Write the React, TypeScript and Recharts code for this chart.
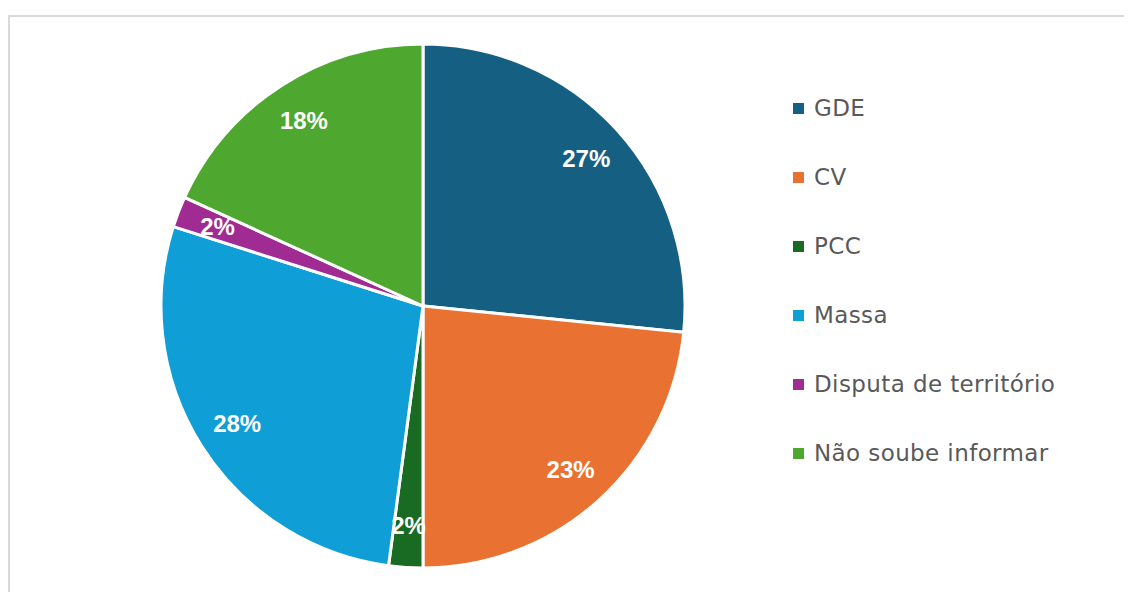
import React from 'react';
import { PieChart, Pie, Cell, Legend } from 'recharts';

const categories = ['GDE', 'CV', 'PCC', 'Massa', 'Disputa de território', 'Não soube informar'];
const shares = [26.6, 23.4, 2.1, 27.8, 1.9, 18.2];
const colors = ['#156082', '#E97132', '#196B24', '#0F9ED5', '#A02B93', '#4EA72E'];

const data = categories.map((name, i) => ({ name, value: shares[i] }));

const RAD = Math.PI / 180;

const renderLabel = (props: any) => {
  const { cx, cy, midAngle, outerRadius, percent } = props;
  const r = outerRadius * 0.84;
  const x = cx + r * Math.cos(-midAngle * RAD);
  const y = cy + r * Math.sin(-midAngle * RAD);
  return (
    <text
      x={x}
      y={y}
      fill="#fff"
      textAnchor="middle"
      dominantBaseline="central"
      fontSize={24}
      fontWeight="bold"
      fontFamily="'Liberation Sans', Arial, sans-serif"
    >
      {`${Math.round(percent * 100)}%`}
    </text>
  );
};

const renderLegend = () => (
  <ul style={{ listStyle: 'none', margin: 0, padding: 0 }}>
    {categories.map((c, i) => (
      <li key={c} style={{ display: 'flex', alignItems: 'center', height: 69 }}>
        <span style={{ width: 11, height: 11, background: colors[i], marginRight: 10, display: 'inline-block' }} />
        <span
          style={{
            fontSize: 23,
            letterSpacing: 0.4,
            color: '#595959',
            fontFamily: "'DejaVu Sans', sans-serif",
            whiteSpace: 'nowrap',
          }}
        >
          {c}
        </span>
      </li>
    ))}
  </ul>
);

export default function App() {
  return (
    <div style={{ position: 'relative', width: 1124, height: 577, marginTop: 7, overflow: 'hidden' }}>
      <div
        style={{
          position: 'absolute',
          left: 0,
          top: 0,
          width: 1140,
          height: 600,
          border: '2px solid #d9d9d9',
          boxSizing: 'border-box',
          background: '#fff',
        }}
      />
      <div style={{ position: 'absolute', left: 0, top: 0 }}>
        <PieChart width={1124} height={577} margin={{ top: 0, right: 0, bottom: 0, left: 0 }}>
          <Pie
            data={data}
            dataKey="value"
            nameKey="name"
            cx={415}
            cy={291}
            outerRadius={262}
            startAngle={90}
            endAngle={-270}
            stroke="#fff"
            strokeWidth={3}
            label={renderLabel}
            labelLine={false}
            isAnimationActive={false}
          >
            {data.map((d, i) => (
              <Cell key={d.name} fill={colors[i]} />
            ))}
          </Pie>
          <Legend
            content={renderLegend}
            wrapperStyle={{ position: 'absolute', left: 785, top: 58.5, width: 330 }}
          />
        </PieChart>
      </div>
    </div>
  );
}
